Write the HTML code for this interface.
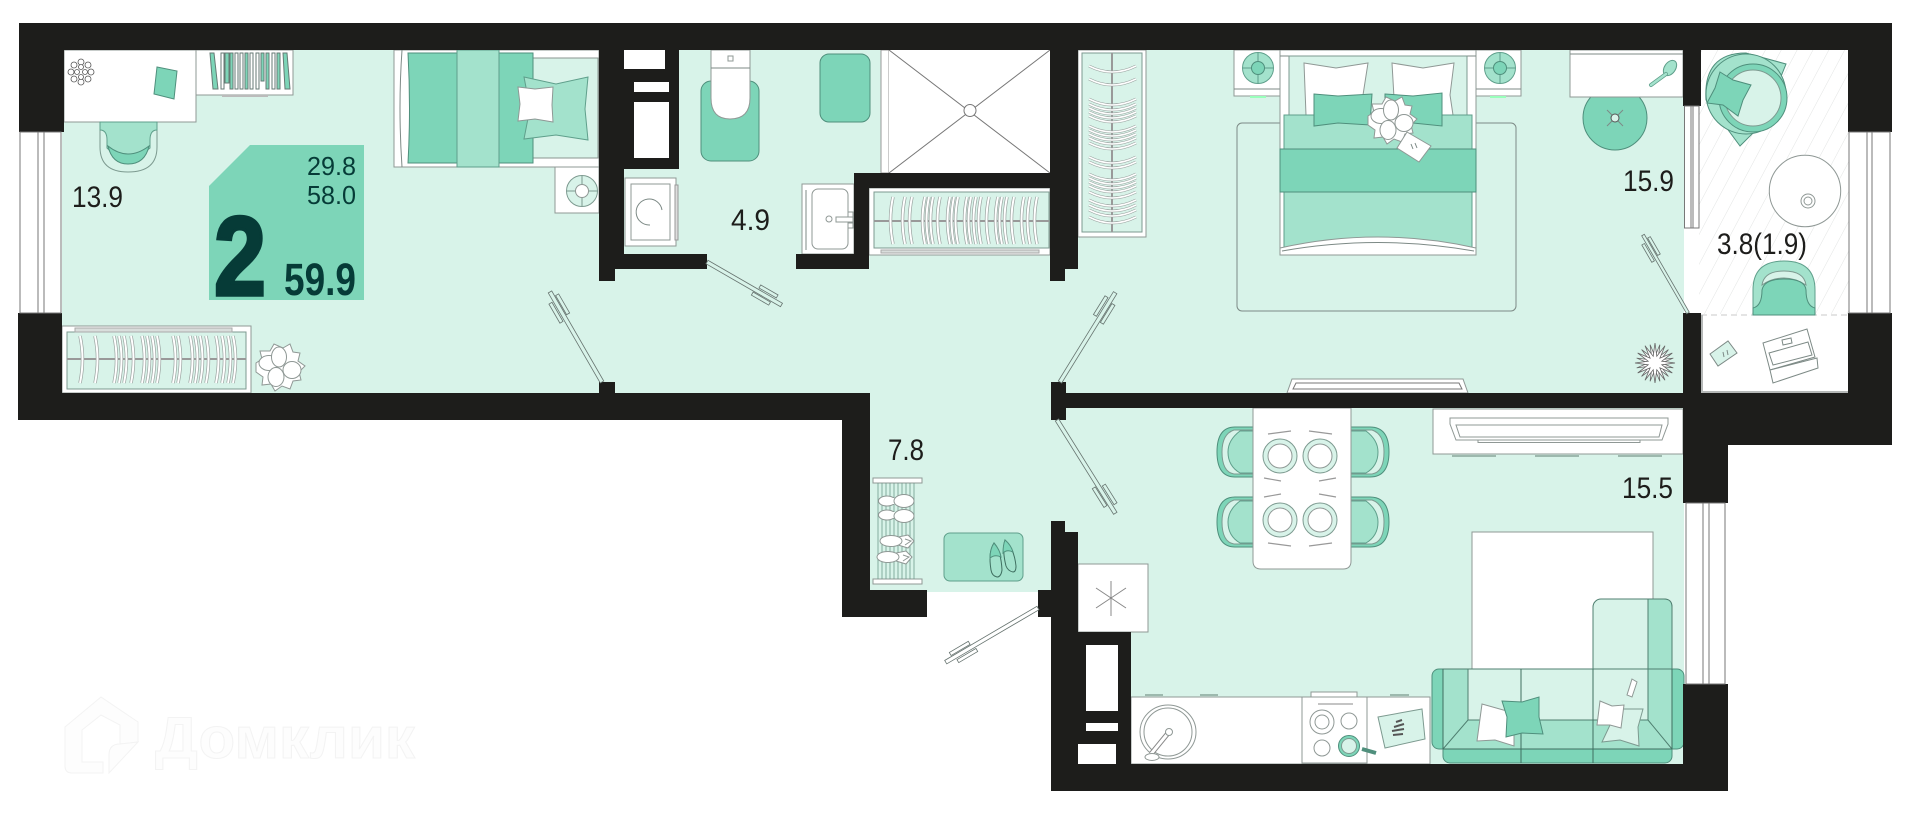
<!DOCTYPE html>
<html lang="ru">
<head>
<meta charset="utf-8">
<title>Floor plan</title>
<style>
html,body{margin:0;padding:0;background:#fff;width:1920px;height:826px;overflow:hidden}
svg{display:block}
text{font-family:"Liberation Sans",sans-serif}
.w{fill:#1d1d1b}
.l{stroke:#7d8a86;stroke-width:1;fill:none}
.f{stroke:#8f9895;stroke-width:1;fill:#fff}
.t{fill:#7dd5b8;stroke:#4f8f7c;stroke-width:1}
.m{fill:#a3e2cc;stroke:#5f9f8b;stroke-width:1}
.g{fill:#d8f3e9;stroke:#7d9a90;stroke-width:1}
.lab{fill:#1d1d1b;font-size:30px}
.door rect{fill:#d8f3e9;stroke:#66736f;stroke-width:.8}
</style>
</head>
<body>
<svg width="1920" height="826" viewBox="0 0 1920 826" xmlns="http://www.w3.org/2000/svg">
<defs>
<pattern id="h" width="14" height="14" patternUnits="userSpaceOnUse" patternTransform="rotate(28)"><line x1="0" y1="0" x2="0" y2="14" stroke="#e2e4e3" stroke-width="1"/></pattern>
<g id="hg"><path d="M0 0Q5 23 0 47" fill="none" stroke="#9aa3a0" stroke-width="3.4"/><path d="M0 0Q5 23 0 47" fill="none" stroke="#fff" stroke-width="2"/></g>
<g id="hr"><path d="M0 0Q-5 23 0 47" fill="none" stroke="#9aa3a0" stroke-width="3.4"/><path d="M0 0Q-5 23 0 47" fill="none" stroke="#fff" stroke-width="2"/></g>
<g id="hh"><path d="M0 -3Q12 3 23 3Q35 3 47 -3" fill="none" stroke="#9aa3a0" stroke-width="2.8"/><path d="M0 -3Q12 3 23 3Q35 3 47 -3" fill="none" stroke="#fff" stroke-width="1.6"/></g>
<g id="fl">
<polygon points="-24,-4 -18,-8 -20,-16 -10,-16 -6,-23 3,-19 10,-23 13,-15 20,-14 18,-6 25,-1 19,5 21,13 13,14 10,22 2,19 -5,24 -9,17 -18,18 -17,10 -24,5" class="f"/>
<ellipse cx="-11" cy="-4" rx="10" ry="7.500" class="f"/><ellipse cx="-1" cy="-10" rx="7.500" ry="10" class="f"/><ellipse cx="12" cy="3" rx="9" ry="8.500" class="f"/><ellipse cx="-4" cy="10" rx="8" ry="9.500" class="f"/>
</g>
<g id="lamp"><circle r="15.500" fill="#a3e2cc" stroke="#5f9f8b"/><line x1="-15" x2="15" stroke="#5f9f8b"/><line y1="-15" y2="15" stroke="#5f9f8b"/><circle r="6.500" class="t"/></g>
<g id="pl"><circle r="17" class="g"/><circle r="12" class="f"/></g>
<polygon id="st" points="20,0 6.800,1.800 17.300,10 4.900,4.900 10,17.300 1.800,6.800 0,20 -1.800,6.800 -10,17.300 -4.900,4.900 -17.300,10 -6.800,1.800 -20,0 -6.800,-1.800 -17.300,-10 -4.900,-4.900 -10,-17.300 -1.800,-6.800 0,-20 1.800,-6.800 10,-17.300 4.900,-4.900 17.300,-10 6.800,-1.800"/>
</defs>

<!-- floor -->
<rect x="62" y="50" width="1622" height="343" fill="#d8f3e9"/>
<rect x="869" y="393" width="200" height="199" fill="#d8f3e9"/>
<rect x="1066" y="405" width="618" height="360" fill="#d8f3e9"/>

<!-- balcony -->
<rect x="1684" y="50" width="165" height="343" fill="#fff"/>
<rect x="1699" y="50" width="150" height="264" fill="url(#h)"/>
<line x1="1701" y1="315" x2="1848" y2="315" stroke="#c8c8c8" stroke-width="1" stroke-dasharray="6 4"/>
<path d="M1702 315V392H1848" fill="none" stroke="#b5b8b7" stroke-width="2"/>

<!-- ROOM 1 -->
<rect x="64" y="50" width="132" height="72" class="f"/>
<g fill="#fff" stroke="#555" stroke-width=".8"><circle cx="81" cy="62" r="3"/><circle cx="88" cy="65" r="3"/><circle cx="91" cy="72" r="3"/><circle cx="88" cy="79" r="3"/><circle cx="81" cy="82" r="3"/><circle cx="74" cy="79" r="3"/><circle cx="71" cy="72" r="3"/><circle cx="74" cy="65" r="3"/><circle cx="81" cy="67" r="2.500"/><circle cx="85" cy="72" r="2.500"/><circle cx="81" cy="77" r="2.500"/><circle cx="77" cy="72" r="2.500"/></g>
<polygon points="157,67 177,71 174,99 154,94" class="t"/>
<path d="M100 122V147Q100 172 128 172Q157 172 157 147V122Z" class="g"/>
<path d="M100 122H157V130Q150 130 150 140V148Q140 157 128 157Q116 157 107 148V140Q107 130 100 130Z" class="m"/>
<path d="M108 146Q128 162 149 146Q145 164 128 164Q112 164 108 146Z" class="t"/>
<rect x="196" y="50" width="97" height="45" class="f"/>
<rect x="222" y="95" width="46" height="2" fill="#bbb"/>
<g stroke="#667a74" stroke-width="1">
<polygon points="210,53 214,53 218,89 213,89" fill="#7dd5b8"/><rect x="221" y="53" width="3" height="36" fill="#fff"/><rect x="225" y="53" width="4" height="30" fill="#7dd5b8"/><rect x="230" y="53" width="3" height="36" fill="#7dd5b8"/><rect x="235" y="53" width="3" height="36" fill="#fff"/><rect x="240" y="53" width="3" height="36" fill="#fff"/><rect x="245" y="53" width="3" height="36" fill="#7dd5b8"/><rect x="250" y="53" width="3" height="36" fill="#fff"/><rect x="256" y="53" width="3" height="36" fill="#fff"/><rect x="261" y="53" width="3" height="28" fill="#7dd5b8"/><rect x="266" y="53" width="3" height="36" fill="#7dd5b8"/><rect x="272" y="53" width="3" height="36" fill="#fff"/><rect x="277" y="53" width="3" height="36" fill="#7dd5b8"/><polygon points="283,53 287,53 290,89 285,89" fill="#7dd5b8"/>
</g>
<!-- bed 1 -->
<rect x="394" y="50" width="205" height="117" class="f"/>
<path d="M402 50Q398 108 402 167" class="l"/>
<rect x="533" y="58" width="65" height="100" fill="#d8f3e9" stroke="#8a9490"/>
<path d="M408 53H533V163H408Q411 108 408 53Z" class="t"/>
<rect x="457" y="50" width="42" height="117" class="m"/>
<polygon points="524,77 556,84 588,77 585,109 588,140 556,135 524,139 530,108" class="m"/>
<polygon points="518,87 535,89 553,87 552,105 553,122 535,119 518,121 520,104" class="f"/>
<rect x="555" y="167" width="44" height="46" class="f"/>
<circle cx="582" cy="191" r="15.500" class="g"/><path d="M567 191H597M582 176V206" stroke="#7d9a90"/><circle cx="582" cy="191" r="6.500" class="f"/>
<!-- wardrobe 1 -->
<rect x="62" y="326" width="189" height="67" class="f"/>
<rect x="67" y="332" width="179" height="57" class="g"/>
<rect x="75" y="328" width="157" height="4" fill="#d9dedc" stroke="#aaa"/>
<line x1="67" y1="359" x2="246" y2="359" stroke="#999" stroke-width="2"/>
<use href="#hg" x="80" y="336"/><use href="#hg" x="95" y="336"/><use href="#hg" x="114" y="336"/><use href="#hg" x="119" y="336"/><use href="#hg" x="124" y="336"/><use href="#hg" x="131" y="336"/><use href="#hg" x="142" y="336"/><use href="#hg" x="147" y="336"/><use href="#hg" x="152" y="336"/><use href="#hg" x="157" y="336"/><use href="#hg" x="173" y="336"/><use href="#hg" x="178" y="336"/><use href="#hg" x="190" y="336"/><use href="#hg" x="195" y="336"/><use href="#hg" x="200" y="336"/><use href="#hg" x="206" y="336"/><use href="#hg" x="216" y="336"/><use href="#hg" x="222" y="336"/><use href="#hg" x="228" y="336"/><use href="#hg" x="233" y="336"/>
<use href="#fl" transform="translate(280 367)"/>

<!-- BATH -->
<rect x="625" y="178" width="51" height="68" class="f"/>
<rect x="631" y="184" width="39" height="56" class="f"/>
<rect x="675" y="185" width="3" height="55" fill="#ddd" stroke="#999"/>
<path d="M662 210A13 13 0 1 0 650 225" class="l"/>
<rect x="701" y="81" width="58" height="80" rx="10" class="t"/>
<path d="M711 50H750V98Q750 119 730 119Q711 119 711 98Z" class="f"/>
<line x1="711" y1="68" x2="750" y2="68" class="l"/>
<rect x="728" y="56" width="5" height="5" class="f"/>
<rect x="820" y="54" width="50" height="68" rx="9" class="t"/>
<rect x="881" y="50" width="8" height="123" fill="#fff" stroke="#999"/>
<rect x="889" y="50" width="161" height="123" fill="#fff"/>
<path d="M889 50L1050 173M1050 50L889 173" stroke="#777" stroke-width="1"/>
<circle cx="970" cy="110.500" r="6" fill="#fff" stroke="#777"/>
<rect x="802" y="184" width="52" height="70" class="f"/>
<rect x="812" y="189" width="36" height="60" rx="6" class="f"/>
<line x1="806" y1="190" x2="806" y2="250" class="l"/>
<rect x="836" y="217" width="17" height="5" class="f"/><circle cx="829" cy="219" r="3" class="f"/>
<rect x="848" y="212" width="5" height="5" class="f"/><rect x="848" y="223" width="5" height="5" class="f"/>
<!-- closet 2 -->
<rect x="869" y="188" width="181" height="67" class="f"/>
<rect x="874" y="192" width="175" height="56" class="g"/>
<line x1="874" y1="221" x2="1049" y2="221" stroke="#999" stroke-width="2"/>
<rect x="881" y="250" width="158" height="3" fill="#d9dedc" stroke="#aaa"/>
<g transform="translate(0 197)">
<use href="#hr" x="893"/><use href="#hr" x="905"/><use href="#hr" x="912"/><use href="#hr" x="925"/><use href="#hr" x="929"/><use href="#hr" x="933"/><use href="#hr" x="940"/><use href="#hr" x="950"/><use href="#hr" x="954"/><use href="#hr" x="958"/><use href="#hr" x="967"/><use href="#hr" x="971"/><use href="#hr" x="976"/><use href="#hr" x="981"/><use href="#hr" x="989"/><use href="#hr" x="998"/><use href="#hr" x="1002"/><use href="#hr" x="1007"/><use href="#hr" x="1014"/><use href="#hr" x="1024"/><use href="#hr" x="1030"/><use href="#hr" x="1037"/>
</g>

<!-- BEDROOM -->
<rect x="1237" y="123" width="279" height="188" rx="5" fill="#d8f3e9" stroke="#7d8a86"/>
<rect x="1078" y="50" width="68" height="187" class="f"/>
<rect x="1082" y="53" width="60" height="179" class="g"/>
<line x1="1112" y1="53" x2="1112" y2="232" stroke="#999" stroke-width="2"/>
<g transform="translate(1089 0)">
<use href="#hh" y="69"/><use href="#hh" y="82"/><use href="#hh" y="102"/><use href="#hh" y="107"/><use href="#hh" y="111"/><use href="#hh" y="115"/><use href="#hh" y="119"/><use href="#hh" y="129"/><use href="#hh" y="133"/><use href="#hh" y="137"/><use href="#hh" y="141"/><use href="#hh" y="146"/><use href="#hh" y="160"/><use href="#hh" y="165"/><use href="#hh" y="177"/><use href="#hh" y="181"/><use href="#hh" y="185"/><use href="#hh" y="189"/><use href="#hh" y="195"/><use href="#hh" y="203"/><use href="#hh" y="208"/><use href="#hh" y="213"/><use href="#hh" y="220"/>
</g>
<rect x="1234" y="50" width="46" height="46" class="f"/><path d="M1234 89H1280" class="l"/><rect x="1250" y="96" width="16" height="2" fill="#9fb"/><use href="#lamp" x="1258" y="68"/>
<rect x="1476" y="50" width="45" height="46" class="f"/><path d="M1476 89H1521" class="l"/><rect x="1490" y="96" width="16" height="2" fill="#9fb"/><use href="#lamp" x="1500" y="68"/>
<rect x="1280" y="50" width="196" height="205" class="f"/>
<line x1="1280" y1="56" x2="1476" y2="56" class="l"/>
<rect x="1289" y="56" width="178" height="59" fill="#d8f3e9" stroke="#7d9a90"/>
<polygon points="1304,63 1336,68 1368,63 1363,95 1366,115 1306,115" class="f"/>
<polygon points="1392,63 1423,68 1454,63 1450,95 1453,115 1395,115" class="f"/>
<rect x="1284" y="115" width="188" height="132" class="m"/>
<polygon points="1314,94 1338,96 1372,94 1370,125 1338,123 1314,126" class="t"/>
<polygon points="1385,94 1413,96 1442,93 1442,126 1413,123 1385,118" class="t"/>
<rect x="1280" y="149" width="196" height="43" class="t"/>
<path d="M1280 248Q1378 226 1476 248V255H1280Z" class="f"/>
<path d="M1282 251Q1378 234 1474 251" class="l"/>
<use href="#fl" transform="translate(1392 120)"/>
<polygon points="1407,132 1431,146 1419,162 1397,148" class="f"/>
<path d="M1411 144L1413 149M1415 143L1417 148" class="l"/>
<circle cx="1615" cy="118" r="32" class="t"/>
<rect x="1570" y="50" width="113" height="47" class="f"/>
<line x1="1570" y1="54" x2="1683" y2="54" class="l"/>
<path d="M1607 126L1623 110M1607 110L1623 126" class="l"/><circle cx="1615" cy="118" r="4" fill="#d8f3e9" stroke="#555"/>
<ellipse cx="1670" cy="68" rx="5.500" ry="8.500" transform="rotate(35 1670 68)" class="m"/>
<line x1="1666" y1="74" x2="1651" y2="85" stroke="#5f9f8b" stroke-width="4" stroke-linecap="round"/>
<line x1="1666" y1="74" x2="1651" y2="85" stroke="#a3e2cc" stroke-width="2.500" stroke-linecap="round"/>
<polygon points="1292,379 1463,379 1468,393 1287,393" class="f"/>
<polygon points="1296,383 1459,383 1462,389 1293,389" fill="none" stroke="#777"/>
<g transform="translate(1655 363)" fill="#fff" stroke="#666" stroke-width=".8"><use href="#st" transform="rotate(15) scale(.95)"/><use href="#st"/></g>

<!-- BALCONY FURNITURE -->
<path d="M1740 146L1706 100Q1703 53 1746 53L1786 64L1780 79Q1790 120 1753 133Z" fill="#a3e2cc" stroke="#4f8f7c"/>
<circle cx="1746" cy="94" r="40" fill="#a3e2cc" stroke="#4f8f7c"/>
<circle cx="1753" cy="98" r="34" class="t"/>
<circle cx="1753" cy="98" r="28" class="g"/>
<polygon points="1720,72 1733,80 1751,85 1743,100 1738,116 1723,105 1707,103 1715,88" class="t"/>
<circle cx="1805" cy="191" r="35.700" class="f"/>
<circle cx="1808" cy="201" r="7" class="f"/><circle cx="1808" cy="201" r="4" class="f"/>
<path d="M1753 315V290Q1753 261 1784 261Q1815 261 1815 290V315Z" class="m"/>
<path d="M1762 285Q1764 271 1784 271Q1804 271 1806 285Q1795 278 1784 278Q1772 278 1762 285Z" class="g"/>
<path d="M1753 315V308Q1762 306 1762 290Q1764 279 1784 279Q1805 279 1806 290Q1806 306 1815 308V315Z" class="t"/>
<g class="l">
<polygon points="1710,354 1728,341 1737,353 1718,366" fill="#d8f3e9" style="fill:#d8f3e9"/>
<path d="M1723 352l1 5M1727 350l1 5"/>
<polygon points="1763,343 1807,329 1815,357 1770,370" fill="#fff"/>
<polygon points="1770,370 1817,358 1818,368 1773,383" fill="#fff"/>
<polygon points="1769,353 1808,342 1812,355 1773,365" fill="#fff"/>
<polygon points="1782,340 1791,338 1792,343 1783,345" fill="#fff"/>
</g>

<!-- HALL -->
<rect x="873" y="478" width="49" height="5" class="f"/>
<rect x="873" y="579" width="49" height="5" class="f"/>
<path d="M878 483V579M882 483V579M886 483V579M890 483V579M894 483V579M898 483V579M902 483V579M906 483V579M910 483V579M914 483V579" stroke="#6f9b8d" stroke-width=".8"/>
<g class="f"><ellipse cx="887" cy="501" rx="8.500" ry="5"/><rect x="887" y="498" width="10" height="6" stroke="none"/><ellipse cx="904" cy="501" rx="10" ry="6.500"/><ellipse cx="887" cy="515" rx="8.500" ry="5"/><rect x="887" y="512" width="10" height="6" stroke="none"/><ellipse cx="904" cy="516" rx="10" ry="6.500"/>
<path d="M908 535L914 541L908 548L898 545V537Z"/><path d="M905 539L911 541L905 545" fill="none"/><ellipse cx="891" cy="541" rx="11" ry="5.500"/>
<path d="M906 551L912 557L906 564L896 561V553Z"/><path d="M903 555L909 557L903 561" fill="none"/><ellipse cx="888" cy="557" rx="11" ry="5.500"/></g>
<rect x="944" y="533" width="79" height="48" rx="6" class="m"/>
<path d="M994 543Q1001 551 1002 570Q1001 577 997 577Q992 576 991 570Q988 552 994 543Z" fill="#a3e2cc" stroke="#3f6f60"/>
<path d="M994 543Q1000 550 1001 557Q995 554 990 558Q990 549 994 543Z" class="t"/>
<path d="M1005 540Q1014 548 1016 566Q1016 572 1013 572Q1008 571 1006 566Q1002 550 1005 540Z" fill="#a3e2cc" stroke="#3f6f60"/>
<path d="M1005 540Q1011 545 1013 552Q1007 549 1003 553Q1003 545 1005 540Z" class="t"/>

<!-- KITCHEN -->
<path d="M1253 427H1235Q1217 427 1217 452Q1217 477 1235 477H1253Z" class="t"/>
<path d="M1253 430H1234Q1222 434 1222 452Q1222 472 1234 474H1253Z" class="g"/>
<path d="M1253 431H1240Q1228 440 1228 452Q1228 466 1240 473H1253Z" class="m"/>
<path d="M1253 497H1235Q1217 497 1217 522Q1217 547 1235 547H1253Z" class="t"/>
<path d="M1253 500H1234Q1222 504 1222 522Q1222 542 1234 544H1253Z" class="g"/>
<path d="M1253 501H1240Q1228 510 1228 522Q1228 536 1240 543H1253Z" class="m"/>
<path d="M1351 427H1370Q1389 427 1389 452Q1389 477 1370 477H1351Z" class="t"/>
<path d="M1351 430H1372Q1384 434 1384 452Q1384 472 1372 474H1351Z" class="g"/>
<path d="M1351 431H1366Q1378 440 1378 452Q1378 466 1366 473H1351Z" class="m"/>
<path d="M1351 497H1370Q1389 497 1389 522Q1389 547 1370 547H1351Z" class="t"/>
<path d="M1351 500H1372Q1384 504 1384 522Q1384 542 1372 544H1351Z" class="g"/>
<path d="M1351 501H1366Q1378 510 1378 522Q1378 536 1366 543H1351Z" class="m"/>
<path d="M1253 408H1351V561Q1351 569 1343 569H1261Q1253 569 1253 561Z" class="f"/>
<use href="#pl" x="1280" y="456"/><use href="#pl" x="1320" y="456"/><use href="#pl" x="1280" y="520"/><use href="#pl" x="1320" y="520"/>
<path d="M1268 434L1291 431M1309 431L1332 434M1264 478L1281 481M1319 481L1336 478M1264 497L1281 494M1319 494L1336 497M1268 543L1291 546M1309 546L1332 543" stroke="#999" stroke-width="1.200" fill="none"/>
<rect x="1433" y="409" width="250" height="45" class="f"/>
<polygon points="1450,418 1668,418 1668,424 1662,440 1456,440 1450,424" class="f"/>
<polygon points="1456,425 1662,425 1659,437 1460,437" class="f"/>
<rect x="1478" y="440" width="162" height="2.500" class="f"/>
<path d="M1452 456H1496M1535 456H1579M1618 456H1662" stroke="#9db9ae" stroke-width="2"/>
<!-- fridge -->
<rect x="1078" y="564" width="70" height="68" class="f"/>
<path d="M1111 581V616M1096 588L1126 608M1126 588L1096 608" stroke="#888" fill="none"/>
<!-- counter -->
<rect x="1131" y="697" width="299" height="67" class="f"/>
<path d="M1145 695H1163M1200 695H1218M1390 695H1409" stroke="#9db9ae" stroke-width="2"/>
<ellipse cx="1168" cy="732" rx="28" ry="27" class="f"/><ellipse cx="1168" cy="732" rx="24" ry="24" class="f"/>
<line x1="1151" y1="754" x2="1169" y2="732" stroke="#888" stroke-width="5"/><line x1="1151" y1="754" x2="1169" y2="732" stroke="#fff" stroke-width="3"/>
<circle cx="1169" cy="732" r="3.500" class="f"/><ellipse cx="1152" cy="757" rx="7" ry="3.500" class="f"/>
<rect x="1302" y="697" width="65" height="66" class="f" stroke-width="2"/>
<rect x="1311" y="692" width="46" height="5" class="f"/>
<circle cx="1322" cy="722" r="12" class="f"/><circle cx="1322" cy="722" r="7" class="f"/>
<circle cx="1349" cy="721" r="8" class="f"/><circle cx="1322" cy="748" r="8" class="f"/>
<circle cx="1349" cy="746" r="10.500" class="t"/><circle cx="1349" cy="746" r="7.500" class="g"/>
<line x1="1362" y1="749" x2="1376" y2="753" stroke="#4f8f7c" stroke-width="4"/>
<line x1="1318" y1="704" x2="1353" y2="704" stroke="#888"/>
<polygon points="1378,717 1422,709 1425,739 1385,748" class="g"/>
<path d="M1394 727l10 -3M1392 731l12 -2M1393 735l10 -1M1396 722l6 -2" stroke="#555" stroke-width="2"/>
<!-- white area -->
<rect x="1472" y="532" width="181" height="137" class="f"/>
<!-- sofa -->
<rect x="1593" y="599" width="79" height="121" rx="8" fill="#d8f3e9" stroke="#4f7f70"/>
<path d="M1648 599H1664Q1672 599 1672 607V669H1648Z" fill="#a3e2cc" stroke="#4f7f70"/>
<rect x="1443" y="735" width="229" height="28" rx="7" class="t"/>
<rect x="1432" y="669" width="252" height="80" rx="7" class="t"/>
<rect x="1443" y="669" width="25" height="80" fill="#a3e2cc" stroke="#4f7f70"/>
<rect x="1468" y="669" width="180" height="51" fill="#d8f3e9" stroke="#4f7f70"/>
<rect x="1648" y="669" width="24" height="80" fill="#a3e2cc" stroke="#4f7f70"/>
<polygon points="1468,720 1648,720 1672,749 1443,749" fill="#a3e2cc" stroke="#4f7f70"/>
<path d="M1443 669V749M1672 669V749M1521 669V763M1593 669V763M1443 749H1672" stroke="#3f6f60" fill="none"/>
<polygon points="1482,704 1514,713 1514,746 1495,740 1477,741" class="f"/>
<polygon points="1502,701 1522,702 1539,697 1539,717 1543,734 1522,733 1506,737 1507,717" class="t"/>
<polygon points="1623,709 1643,709 1638,727 1639,746 1620,740 1602,742 1610,725" class="g"/>
<polygon points="1600,701 1612,706 1624,705 1621,728 1610,725 1597,725" class="f"/>
<polygon points="1632,679 1637,682 1632,697 1627,695" class="f"/>

<!-- WALLS -->
<g class="w">
<rect x="19" y="23" width="1873" height="27"/>
<rect x="19" y="23" width="45" height="109"/>
<rect x="18" y="313" width="44" height="107"/>
<rect x="18" y="393" width="852" height="27"/>
<rect x="599" y="50" width="25" height="204"/>
<rect x="599" y="50" width="16" height="231"/>
<rect x="599" y="254" width="108" height="15"/>
<rect x="599" y="382" width="16" height="11"/>
<rect x="624" y="50" width="55" height="119"/>
<rect x="854" y="173" width="196" height="15"/>
<rect x="854" y="173" width="15" height="96"/>
<rect x="796" y="254" width="73" height="15"/>
<rect x="1050" y="50" width="28" height="219"/>
<rect x="1050" y="50" width="15" height="231"/>
<rect x="842" y="393" width="28" height="224"/>
<rect x="842" y="590" width="85" height="27"/>
<rect x="1051" y="382" width="15" height="38"/>
<rect x="1051" y="393" width="632" height="15"/>
<rect x="1051" y="521" width="14" height="11"/>
<rect x="1051" y="532" width="27" height="259"/>
<rect x="1038" y="590" width="13" height="27"/>
<rect x="1078" y="632" width="53" height="132"/>
<rect x="1051" y="764" width="677" height="27"/>
<rect x="1683" y="50" width="18" height="56"/>
<rect x="1683" y="313" width="18" height="80"/>
<rect x="1683" y="393" width="209" height="52"/>
<rect x="1683" y="393" width="45" height="110"/>
<rect x="1683" y="684" width="45" height="107"/>
<rect x="1848" y="23" width="44" height="109"/>
<rect x="1848" y="313" width="44" height="132"/>
</g>
<!-- closet voids -->
<g fill="#fff">
<rect x="624" y="50" width="41" height="19"/>
<rect x="634" y="82" width="35" height="10"/>
<rect x="634" y="102" width="35" height="56"/>
<rect x="1086" y="645" width="32" height="66"/>
<rect x="1086" y="723" width="32" height="8"/>
<rect x="1078" y="744" width="38" height="20"/>
</g>

<!-- WINDOWS -->
<g fill="#fff" stroke="#777" stroke-width="1">
<rect x="20" y="132" width="41" height="181"/>
<path d="M38 132V313M44 132V313" fill="none"/>
<rect x="1684.500" y="106" width="14.500" height="122"/>
<path d="M1691 106V228M1693 106V228" fill="none"/>
<rect x="1849" y="132" width="41" height="181"/>
<path d="M1867 132V313M1872 132V313" fill="none"/>
<rect x="1686" y="503" width="39" height="181"/>
<path d="M1703 503V684M1709 503V684" fill="none"/>
</g>

<!-- DOORS -->
<g class="door" transform="translate(602 382) rotate(-120)"><rect x="0" y="-2" width="104" height="4"/><rect x="72" y="-7" width="22" height="3.500"/><rect x="76" y="3" width="22" height="3.500"/></g>
<g class="door" transform="translate(707 262) rotate(30)"><rect x="0" y="-2" width="86" height="4"/><rect x="58" y="-7" width="20" height="3.500"/><rect x="55" y="3" width="20" height="3.500"/></g>
<g class="door" transform="translate(1060 382) rotate(-58.300)"><rect x="0" y="-2" width="105" height="4"/><rect x="75" y="-7" width="22" height="3.500"/><rect x="72" y="3" width="22" height="3.500"/></g>
<g class="door" transform="translate(1057 420) rotate(58)"><rect x="0" y="-2" width="110" height="4"/><rect x="80" y="-7" width="22" height="3.500"/><rect x="77" y="3" width="22" height="3.500"/></g>
<g class="door" transform="translate(1038 608) rotate(149.600)"><rect x="0" y="-2" width="107" height="4" style="fill:#fff"/><rect x="74" y="-7" width="22" height="3.500" style="fill:#fff"/><rect x="77" y="3" width="22" height="3.500" style="fill:#fff"/></g>
<g class="door" transform="translate(1688 313) rotate(-120)"><rect x="0" y="-1.500" width="90" height="3"/><rect x="62" y="-6" width="20" height="3"/><rect x="65" y="2.500" width="20" height="3"/></g>

<!-- BADGE -->
<polygon points="250,145 364,145 364,300 209,300 209,186" fill="#7dd5b8"/>
<text x="307" y="175" font-size="26" fill="#063b37" textLength="49" lengthAdjust="spacingAndGlyphs">29.8</text>
<text x="307" y="204" font-size="26" fill="#063b37" textLength="49" lengthAdjust="spacingAndGlyphs">58.0</text>
<text x="214" y="295" font-size="112" font-weight="700" fill="#063b37" stroke="#063b37" stroke-width="3.500" textLength="52" lengthAdjust="spacingAndGlyphs">2</text>
<text x="284" y="295" font-size="45" font-weight="700" fill="#063b37" textLength="72" lengthAdjust="spacingAndGlyphs">59.9</text>

<!-- LABELS -->
<text class="lab" x="72" y="207" textLength="51" lengthAdjust="spacingAndGlyphs">13.9</text>
<text class="lab" x="731" y="230" textLength="39" lengthAdjust="spacingAndGlyphs">4.9</text>
<text class="lab" x="888" y="460" textLength="36" lengthAdjust="spacingAndGlyphs">7.8</text>
<text class="lab" x="1623" y="191" textLength="51" lengthAdjust="spacingAndGlyphs">15.9</text>
<text class="lab" x="1717" y="254" textLength="90" lengthAdjust="spacingAndGlyphs">3.8(1.9)</text>
<text class="lab" x="1622" y="498" textLength="51" lengthAdjust="spacingAndGlyphs">15.5</text>

<!-- WATERMARK -->
<g fill="#fdfdfd" stroke="#f3f3f3" stroke-width="1">
<path d="M65 727L101 697L138 722V742L120 744V725L101 715L82 730V762H103V773H72Q65 773 65 766Z"/>
<path d="M109 773V755Q109 744 120 744L138 742Z"/>
<text x="155" y="758" font-size="58" font-weight="700" textLength="260" lengthAdjust="spacingAndGlyphs" style="font-family:'Liberation Sans','DejaVu Sans',sans-serif">Домклик</text>
</g>
</svg>
</body>
</html>
